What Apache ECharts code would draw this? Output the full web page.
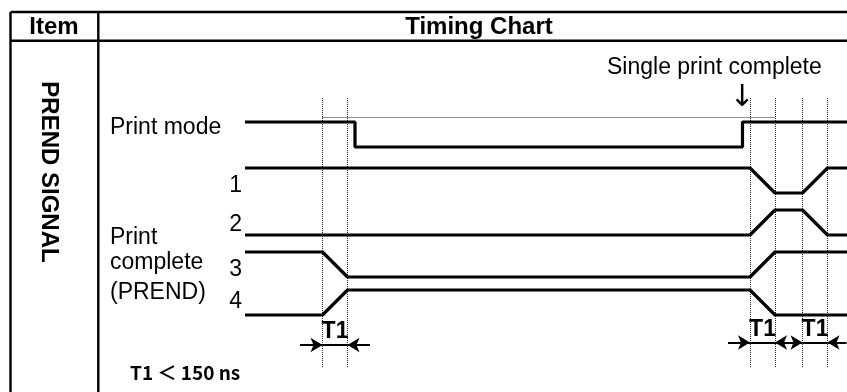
<!DOCTYPE html>
<html>
<head>
<meta charset="utf-8">
<script src="https://cdn.jsdelivr.net/npm/echarts@6/dist/echarts.min.js"></script>
<style>
  html, body { margin: 0; padding: 0; background: #fff; }
  #main { width: 847px; height: 392px; }
</style>
</head>
<body>
<div id="main"></div>
<script>
// time axis (one unit ~ one T1 window); transition edges of the T1 windows
const edges = [3.1, 4.1, 20.2, 21.2, 22.3, 23.3];
const tEnd = 24.08;

// logical level of each signal (1 = upper line, 0 = lower line)
const printModeT = [0, 4.4, 4.4, 19.9, 19.9, tEnd];
const printModeV = [1, 1, 0, 0, 1, 1];
const sig1T = [0, 20.2, 21.2, 22.3, 23.3, tEnd];
const sig1V = [1, 1, 0, 0, 1, 1];
const sig2T = [0, 20.2, 21.2, 22.3, 23.3, tEnd];
const sig2V = [0, 0, 1, 1, 0, 0];
const sig3T = [0, 3.1, 4.1, 20.2, 21.2, tEnd];
const sig3V = [1, 1, 0, 0, 1, 1];
const sig4T = [0, 3.1, 4.1, 20.2, 21.2, tEnd];
const sig4V = [0, 0, 1, 1, 0, 0];

// lanes: position of the upper level on the vertical axis
const laneTop = [4.88, 6.72, 8.4, 10.08, 11.6];

// annotation levels
const guideTop = 3.92, guideBottom = 14.68, guideHoriz = 4.68;
const t1Row = 13.8, t1LabelRow = 13.28;
const t1Labels = [[3.6, t1LabelRow], [20.7, t1LabelRow - 0.1], [22.8, t1LabelRow - 0.1]];

const FONT = 'Liberation Sans, Arial, sans-serif';

function wave(ts, vs, top) {
  return ts.map((t, i) => [t, top + (1 - vs[i])]);
}

function seg(a, b, y, s1, s2) {
  return [
    { coord: [a, y], symbol: s1 || 'none' },
    { coord: [b, y], symbol: s2 || 'none' }
  ];
}

const chart = echarts.init(document.getElementById('main'), null, { renderer: 'canvas' });

const waveStyle = { color: '#000', width: 3.2 };
const waves = [
  wave(printModeT, printModeV, laneTop[0]),
  wave(sig1T, sig1V, laneTop[1]),
  wave(sig2T, sig2V, laneTop[2]),
  wave(sig3T, sig3V, laneTop[3]),
  wave(sig4T, sig4V, laneTop[4])
];

const series = waves.map(d => ({
  type: 'line',
  data: d,
  showSymbol: false,
  clip: false,
  lineStyle: waveStyle,
  z: 5
}));

// dotted guides
series.push({
  type: 'line',
  data: [],
  showSymbol: false,
  markLine: {
    silent: true,
    symbol: ['none', 'none'],
    label: { show: false },
    lineStyle: { color: '#222', type: [1, 1], width: 1 },
    data: edges.map(t => [{ coord: [t, guideTop] }, { coord: [t, guideBottom] }])
      .concat([[{ coord: [edges[0], guideHoriz] }, { coord: [edges[3], guideHoriz] }]])
  }
});

// T1 arrows
series.push({
  type: 'line',
  data: [],
  showSymbol: false,
  clip: false,
  markLine: {
    silent: true,
    symbolSize: [11, 12],
    label: { show: false },
    lineStyle: { color: '#000', type: 'solid', width: 2 },
    data: [
      seg(2.2, 3.1, t1Row, 'none', 'arrow'),
      seg(3.1, 4.1, t1Row),
      seg(5.0, 4.1, t1Row, 'none', 'arrow'),
      seg(19.32, 20.2, t1Row - 0.1, 'none', 'arrow'),
      seg(20.2, 21.2, t1Row - 0.1),
      seg(21.2, 22.3, t1Row - 0.1, 'arrow', 'arrow'),
      seg(22.3, 23.3, t1Row - 0.1),
      seg(tEnd - 0.02, 23.3, t1Row - 0.1, 'none', 'arrow')
    ]
  }
});

series.push({
  type: 'scatter',
  data: t1Labels,
  symbolSize: 1,
  itemStyle: { opacity: 0 },
  silent: true,
  z: 10,
  label: {
    show: true,
    position: 'inside',
    formatter: 'T1',
    color: '#000',
    opacity: 1,
    fontFamily: 'Liberation Sans',
    fontWeight: 'bold',
    fontSize: 23
  }
});

function txt(text, x, y, opts) {
  opts = opts || {};
  return {
    type: 'text',
    x: x, y: y,
    rotation: opts.rotation || 0,
    z: 20,
    style: {
      text: text,
      fill: '#000',
      font: (opts.bold ? 'bold ' : '') + (opts.size || 23) + 'px ' + (opts.family || FONT),
      align: opts.align || 'left',
      textAlign: opts.align || 'left',
      verticalAlign: 'middle',
      textVerticalAlign: 'middle'
    }
  };
}

function ln(x1, y1, x2, y2) {
  return { type: 'line', z: 20, shape: { x1, y1, x2, y2 }, style: { stroke: '#000', lineWidth: 2.4 } };
}

const option = {
  animation: false,
  backgroundColor: '#fff',
  grid: { left: 245, right: 0, top: 0, bottom: 0 },
  xAxis: { type: 'value', min: 0, max: tEnd, show: false },
  yAxis: { type: 'value', min: 0, max: 15.68, inverse: true, show: false },
  series: series,
  graphic: [
    // table frame
    ln(10.5, 12, 847, 12),
    ln(10.5, 40.7, 847, 40.7),
    ln(10.5, 12, 10.5, 392),
    ln(98.3, 12, 98.3, 392),
    // headers
    txt('Item', 54, 27, { bold: true, size: 24, align: 'center' }),
    txt('Timing Chart', 479, 27, { bold: true, size: 24, align: 'center' }),
    txt('PREND SIGNAL', 49, 172, { bold: true, size: 24, align: 'center', rotation: -Math.PI / 2 }),
    // signal names
    txt('Print mode', 110, 128),
    txt('1', 242, 186, { align: 'right' }),
    txt('2', 242, 225, { align: 'right' }),
    txt('3', 242, 270, { align: 'right' }),
    txt('4', 242, 302, { align: 'right' }),
    txt('Print', 110, 238),
    txt('complete', 110, 263),
    txt('(PREND)', 110, 293),
    txt('Single print complete', 607, 68),
    txt('\u2193', 742, 98, { size: 30, align: 'center', family: 'DejaVu Sans' }),
    txt('T1 \uFF1C 150 ns', 130, 373, { size: 19, bold: true, family: '"Noto Sans CJK JP"' })
  ]
};

chart.setOption(option);
</script>
</body>
</html>
